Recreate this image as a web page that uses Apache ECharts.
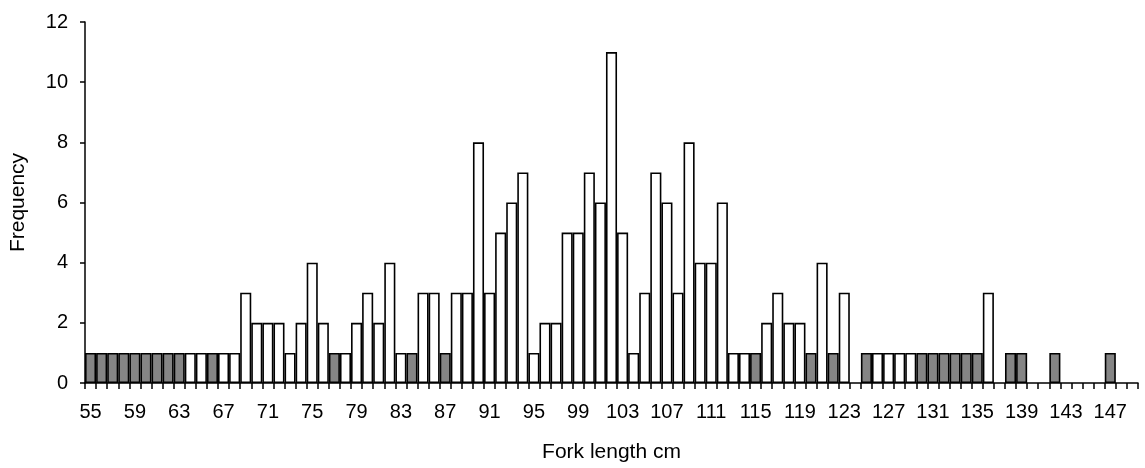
<!DOCTYPE html>
<html>
<head>
<meta charset="utf-8">
<script src="https://cdn.jsdelivr.net/npm/echarts@6/dist/echarts.min.js"></script>
<style>
  html, body { margin: 0; padding: 0; background: #fff; }
  #chart { width: 1145px; height: 468px; }
</style>
</head>
<body>
<div id="chart"></div>
<script>
const forkLengths = [
  '55','56','57','58','59','60','61','62','63','64','65','66','67','68',
  '69','70','71','72','73','74','75','76','77','78',
  '79','80','81','82','83','84','85','86','87','88',
  '89','90','91','92','93','94','95','96','97','98',
  '99','100','101','102','103','104','105','106','107','108',
  '109','110','111','112','113','114','115','116','117','118',
  '119','120','121','122','123','124','125','126','127','128',
  '129','130','131','132','133','134','135','136',
  '137','138','139','140','141','142','143','144','145','146','147','148','149'
]

// open bars
const whiteCounts = [
  null, null, null, null, null, null, null, null, null, 1, 1, null, 1, 1,
  3, 2, 2, 2, 1, 2, 4, 2, null, 1,
  2, 3, 2, 4, 1, null, 3, 3, null, 3,
  3, 8, 3, 5, 6, 7, 1, 2, 2, 5,
  5, 7, 6, 11, 5, 1, 3, 7, 6, 3,
  8, 4, 4, 6, 1, 1, null, 2, 3, 2,
  2, null, 4, null, 3, null, null, 1, 1, 1,
  1, null, null, null, null, null, null, 3,
  null, null, null, null, null, null, null, null, null, null, null, null, null
]

// shaded bars
const greyCounts = [
  1, 1, 1, 1, 1, 1, 1, 1, 1, null, null, 1, null, null,
  null, null, null, null, null, null, null, null, 1, null,
  null, null, null, null, null, 1, null, null, 1, null,
  null, null, null, null, null, null, null, null, null, null,
  null, null, null, null, null, null, null, null, null, null,
  null, null, null, null, null, null, 1, null, null, null,
  null, 1, null, 1, null, null, 1, null, null, null,
  null, 1, 1, 1, 1, 1, 1, null,
  null, 1, 1, null, null, 1, null, null, null, null, 1, null, null
]

const yTicks = { min: 0, max: 12, step: 2 }

const chart = echarts.init(document.getElementById('chart'))

const textFont = 'Liberation Sans, Arial, sans-serif'

const option = {
  animation: false,
  backgroundColor: '#fff',
  grid: { left: 82, right: 7, top: 22, bottom: 85, containLabel: false },
  xAxis: {
    type: 'category',
    data: forkLengths,
    name: 'Fork length cm',
    nameLocation: 'middle',
    nameGap: 59,
    nameTextStyle: { color: '#000', fontSize: 21, fontFamily: textFont },
    axisLine: { lineStyle: { color: '#000', width: 1.5 } },
    axisTick: { show: true, interval: 0, length: 6, lineStyle: { color: '#000', width: 1.5 } },
    axisLabel: { interval: 3, color: '#000', fontSize: 20, fontFamily: textFont, margin: 19 },
    splitLine: { show: false }
  },
  yAxis: {
    type: 'value',
    min: yTicks.min,
    max: yTicks.max,
    interval: yTicks.step,
    name: 'Frequency',
    nameLocation: 'middle',
    nameGap: 56,
    nameTextStyle: { color: '#000', fontSize: 21, fontFamily: textFont },
    axisLine: { show: true, lineStyle: { color: '#000', width: 1.5 } },
    axisTick: { show: true, length: 5, lineStyle: { color: '#000', width: 1.5 } },
    axisLabel: { color: '#000', fontSize: 20, fontFamily: textFont, margin: 17 },
    splitLine: { show: false }
  },
  series: [
    {
      name: 'open',
      type: 'bar',
      data: whiteCounts,
      barWidth: '100%',
      barGap: '-100%',
      itemStyle: { color: '#fff', borderColor: '#000', borderWidth: 1.6 }
    },
    {
      name: 'shaded',
      type: 'bar',
      data: greyCounts,
      barWidth: '100%',
      barGap: '-100%',
      itemStyle: { color: '#858585', borderColor: '#000', borderWidth: 1.6 }
    }
  ]
}

chart.setOption(option)
</script>
</body>
</html>
